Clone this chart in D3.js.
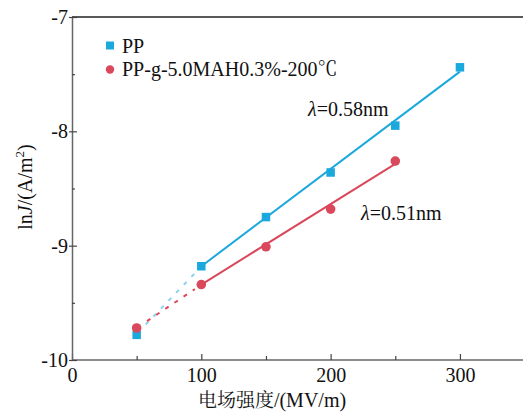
<!DOCTYPE html>
<html>
<head>
<meta charset="utf-8">
<script src="https://cdn.jsdelivr.net/npm/d3@7"></script>
<style>
  html, body { margin: 0; padding: 0; background: #fff; }
  svg { display: block; }
</style>
</head>
<body>
<svg id="chart" width="523" height="414"></svg>
<script>
// Field strength (MV/m)
const fieldPP = [50, 100, 150, 200, 250, 300];
const lnJPP = [-9.78, -9.18, -8.75, -8.36, -7.95, -7.44];
const fieldMAH = [50, 100, 150, 200, 250];
const lnJMAH = [-9.72, -9.34, -9.01, -8.68, -8.26];

// Fitted lines (solid) and low-field extensions (dashed)
const fitPP = [[100, -9.18], [300, -7.478]];
const fitMAH = [[100, -9.34], [250, -8.285]];
const extPP = [[57, -9.69], [96, -9.23]];
const extMAH = [[58, -9.66], [95, -9.38]];

const seriesNames = ["PP", "PP-g-5.0MAH0.3%-200"];
const xTicks = [0, 100, 200, 300];
const xMinor = [50, 150, 250];
const yTicks = [-10, -9, -8, -7];
const yMinor = [-9.5, -8.5, -7.5];
const lambdaPP = "0.58nm";
const lambdaMAH = "0.51nm";

const blue = "#1ba8dd", blueLight = "#8fd2ee", red = "#d9485b";
const axisColor = "#666";
const serif = '"Liberation Serif", "Times New Roman", Tinos, serif';
const cjk = '"Noto Serif CJK SC", "Noto Sans CJK SC", serif';

const svg = d3.select("#chart");
const x = d3.scaleLinear().domain([0, 350]).range([72, 524.6]);
const y = d3.scaleLinear().domain([-10, -7]).range([360, 17]);

// ticks labelled with a plain hyphen-minus
const fmt = d => String(d);

// top frame line
svg.append("line").attr("x1", x(0)).attr("x2", 523).attr("y1", y(-7)).attr("y2", y(-7))
  .attr("stroke", "#222").attr("stroke-width", 1.5);

function styleAxis(g) {
  g.select(".domain").attr("stroke", axisColor).attr("stroke-width", 1.5);
  g.selectAll(".tick line").attr("stroke", "#444").attr("stroke-width", 1.2);
  g.selectAll("text").attr("fill", "#111").style("font-family", serif).style("font-size", "20px");
}

// x axis: major and minor ticks point inward
const gx = svg.append("g").attr("transform", `translate(0,${y(-10)})`)
  .call(d3.axisBottom(x).tickValues(xTicks).tickSizeInner(-6).tickSizeOuter(0).tickPadding(10)
    .tickFormat(fmt));
styleAxis(gx);
gx.select(".domain").attr("d", `M${x(0)},0H523`);
gx.selectAll(".tick text").attr("dy", "0.8em").attr("y", 6);
const gxm = svg.append("g").attr("transform", `translate(0,${y(-10)})`)
  .call(d3.axisBottom(x).tickValues(xMinor).tickSizeInner(-4).tickSizeOuter(0).tickFormat(""));
gxm.select(".domain").remove();
gxm.selectAll(".tick line").attr("stroke", "#444").attr("stroke-width", 1.2);

// y axis: major ticks cross the axis, minor inward
const gy = svg.append("g").attr("transform", `translate(${x(0)},0)`)
  .call(d3.axisLeft(y).tickValues(yTicks).tickSizeInner(3).tickSizeOuter(0).tickPadding(2)
    .tickFormat(fmt));
styleAxis(gy);
gy.selectAll(".tick line").attr("x2", 5).attr("x1", -3);
gy.selectAll(".tick text").attr("x", -4).attr("dy", "0.32em");
const gym = svg.append("g").attr("transform", `translate(${x(0)},0)`)
  .call(d3.axisLeft(y).tickValues(yMinor).tickSizeInner(-3).tickSizeOuter(0).tickFormat(""));
gym.select(".domain").remove();
gym.selectAll(".tick line").attr("stroke", "#444").attr("stroke-width", 1.2);

// axis titles
svg.append("text").attr("x", 272).attr("y", 407).attr("text-anchor", "middle")
  .attr("fill", "#111").style("font-family", serif).style("font-size", "20px")
  .call(t => {
    t.append("tspan").style("font-family", cjk).style("font-size", "19px").text("电场强度");
    t.append("tspan").text("/(MV/m)");
  });

const yl = svg.append("text").attr("transform", "translate(32,187) rotate(-90)")
  .attr("text-anchor", "middle").attr("fill", "#111")
  .style("font-family", serif).style("font-size", "20px");
yl.append("tspan").text("ln");
yl.append("tspan").attr("font-style", "italic").text("J");
yl.append("tspan").text("/(A/m");
yl.append("tspan").style("font-size", "13px").attr("dy", -8).text("2");
yl.append("tspan").attr("dy", 8).text(")");

// lines
const line = d3.line().x(d => x(d[0])).y(d => y(d[1]));
svg.append("path").attr("d", line(extPP)).attr("fill", "none")
  .attr("stroke", blueLight).attr("stroke-width", 2).attr("stroke-dasharray", "4,7");
svg.append("path").attr("d", line(extMAH)).attr("fill", "none")
  .attr("stroke", red).attr("stroke-width", 2).attr("stroke-dasharray", "4,7");
svg.append("path").attr("d", line(fitPP)).attr("fill", "none")
  .attr("stroke", blue).attr("stroke-width", 2);
svg.append("path").attr("d", line(fitMAH)).attr("fill", "none")
  .attr("stroke", red).attr("stroke-width", 2);

// markers
const sq = 8.5;
svg.append("g").selectAll("rect").data(fieldPP.map((f, i) => [f, lnJPP[i]])).join("rect")
  .attr("x", d => x(d[0]) - sq / 2).attr("y", d => y(d[1]) - sq / 2)
  .attr("width", sq).attr("height", sq).attr("fill", blue);
svg.append("g").selectAll("circle").data(fieldMAH.map((f, i) => [f, lnJMAH[i]])).join("circle")
  .attr("cx", d => x(d[0])).attr("cy", d => y(d[1])).attr("r", 4.8).attr("fill", red);

// legend
const lg = svg.append("g");
lg.append("rect").attr("x", 106).attr("y", 41.5).attr("width", 8).attr("height", 8).attr("fill", blue);
lg.append("text").attr("x", 122).attr("y", 52.5).attr("fill", "#111")
  .style("font-family", serif).style("font-size", "20px").text(seriesNames[0]);
lg.append("circle").attr("cx", 110).attr("cy", 69.5).attr("r", 4.2).attr("fill", red);
lg.append("text").attr("x", 122).attr("y", 76).attr("fill", "#111")
  .style("font-family", serif).style("font-size", "20px")
  .call(t => {
    t.append("tspan").text(seriesNames[1]);
    t.append("tspan").style("font-family", cjk).text("℃");
  });

// lambda annotations
function lambdaLabel(px, py, val) {
  const t = svg.append("text").attr("x", px).attr("y", py).attr("fill", "#111")
    .style("font-family", serif).style("font-size", "20px");
  t.append("tspan").attr("font-style", "italic").text("λ");
  t.append("tspan").text("=" + val);
}
lambdaLabel(308, 116, lambdaPP);
lambdaLabel(361, 220, lambdaMAH);
</script>
</body>
</html>
